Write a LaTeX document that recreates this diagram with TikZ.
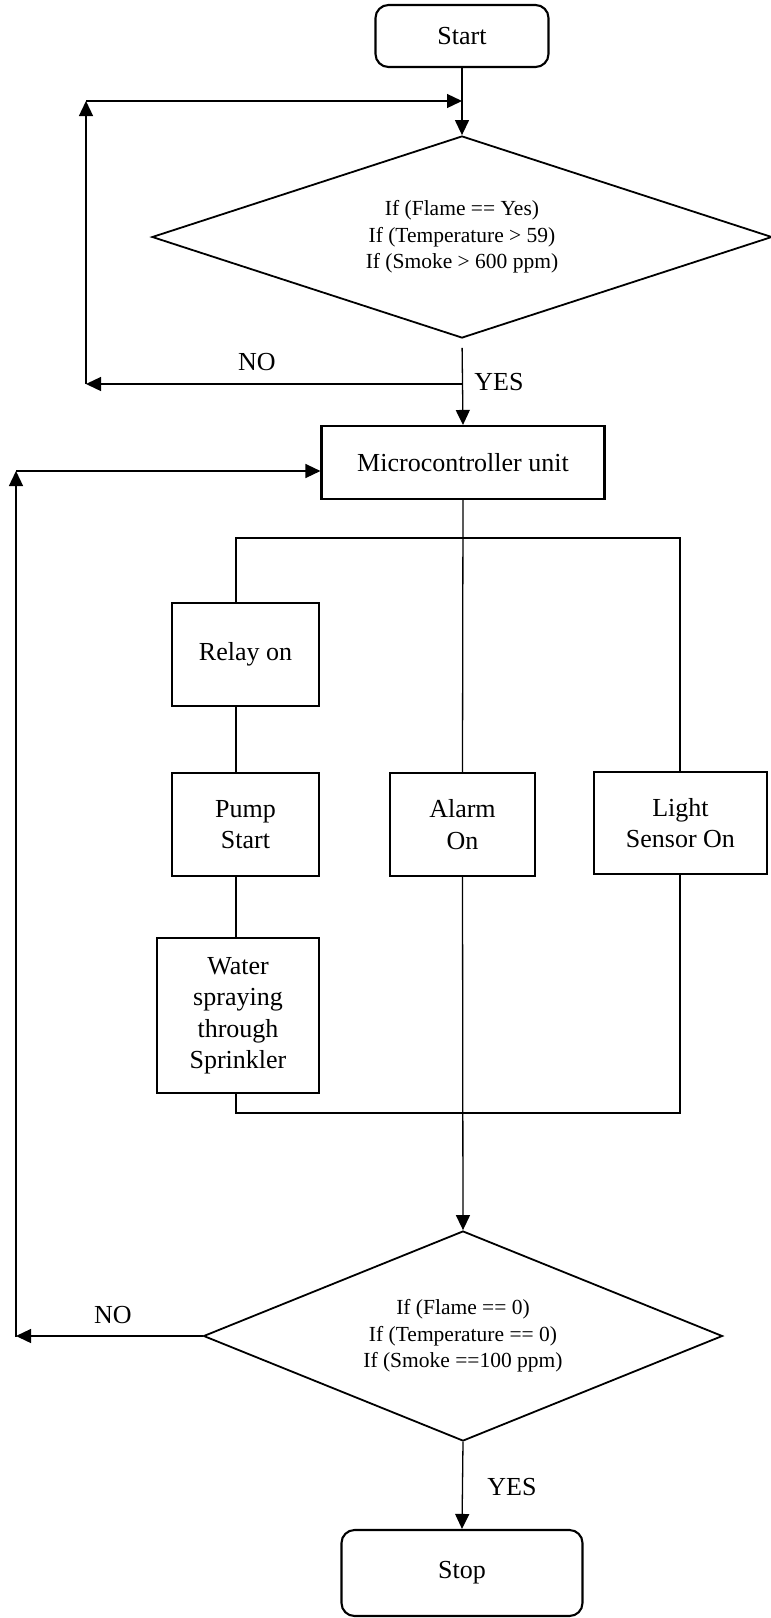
\documentclass[tikz,border=0pt]{standalone}
\usepackage{fontspec}
\setmainfont{Liberation Serif}
\usetikzlibrary{shapes.geometric,arrows.meta}
\tikzset{
  boxtxt/.style={font=\fontsize{26}{31.5}\selectfont, align=center},
  procbox/.style={draw, line width=2.1pt, rectangle, inner sep=0pt, boxtxt},
  termbox/.style={procbox, rounded corners=13pt},
  decision/.style={draw, line width=1.8pt, diamond, inner sep=0pt, aspect=3,
    font=\fontsize{21.5}{26.5}\selectfont, align=center},
  conn/.style={line width=1.3pt},
  arr/.style={conn, -{Triangle[length=15pt,width=14pt]}},
  lbl/.style={font=\fontsize{26}{30}\selectfont, inner sep=0pt}
}
\begin{document}
\begin{tikzpicture}[x=1pt,y=-1pt]
\useasboundingbox (0,0) rectangle (771,1618);

% nodes
\node[termbox, minimum width=173pt, minimum height=62pt] (start) at (462,36) {Start};
\node[decision, minimum width=620pt, minimum height=202pt] (d1) at (462,237)
  {If (Flame == Yes)\\If (Temperature > 59)\\If (Smoke > 600 ppm)};
\node[procbox, minimum width=283pt, minimum height=73pt] (micro) at (463,462.5) {Microcontroller unit};
\node[procbox, minimum width=147pt, minimum height=103pt] (relay) at (245.5,654.5) {Relay on};
\node[procbox, minimum width=147pt, minimum height=103pt] (pump) at (245.5,824.5) {Pump\\Start};
\node[procbox, minimum width=145pt, minimum height=103pt] (alarm) at (462.5,824.5) {Alarm\\On};
\node[procbox, minimum width=173pt, minimum height=102pt] (light) at (680.5,823) {Light\\Sensor On};
\node[procbox, minimum width=162pt, minimum height=155pt] (water) at (238,1015.5) {Water\\spraying\\through\\Sprinkler};
\node[decision, minimum width=519pt, minimum height=210pt] (d2) at (463,1336)
  {If (Flame == 0)\\If (Temperature == 0)\\If (Smoke ==100 ppm)};
\node[termbox, minimum width=241pt, minimum height=86pt] (stop) at (462,1573) {Stop};

% coordinates
\coordinate (fbAtop) at (86,101);
\coordinate (fbAbot) at (86,384);
\coordinate (fbBtop) at (16,471);
\coordinate (fbBbot) at (16,1337);
\coordinate (busL) at (236,538);
\coordinate (busR) at (680,538);
\coordinate (botL) at (236,1113);
\coordinate (botR) at (680,1113);

% top section
\draw[arr] (start.south) -- (start.south |- d1.north);
\draw[arr] (fbAtop) -- (fbAtop -| start.south);
\draw[arr, shorten <=9pt] (d1.south) -- (micro.north);
\draw[arr] (fbAbot -| d1.south) -- (fbAbot);
\draw[arr] (fbAbot) -- (fbAtop);
\node[lbl] (no1) at (257,362) {NO};
\node[lbl] (yes1) at (499,382) {YES};

% microcontroller branches
\draw[conn] (micro.south) -- (alarm.north);
\draw[conn] (relay.north -| busL) -- (busL) -- (busR) -- (light.north -| busR);
\draw[conn] (relay.south -| busL) -- (pump.north -| busL);
\draw[conn] (pump.south -| busL) -- (water.north -| busL);
\draw[conn] (water.south -| botL) -- (botL) -- (botR) -- (light.south -| botR);
\draw[arr] (alarm.south) -- (d2.north);

% bottom decision
\draw[arr] (d2.west) -- (d2.west -| fbBbot);
\draw[arr] (fbBbot) -- (fbBtop);
\draw[arr] (fbBtop) -- (fbBtop -| micro.west);
\draw[arr] (d2.south) -- (stop.north);
\node[lbl] (no2) at (113,1315) {NO};
\node[lbl] (yes2) at (512,1487) {YES};
\end{tikzpicture}
\end{document}
